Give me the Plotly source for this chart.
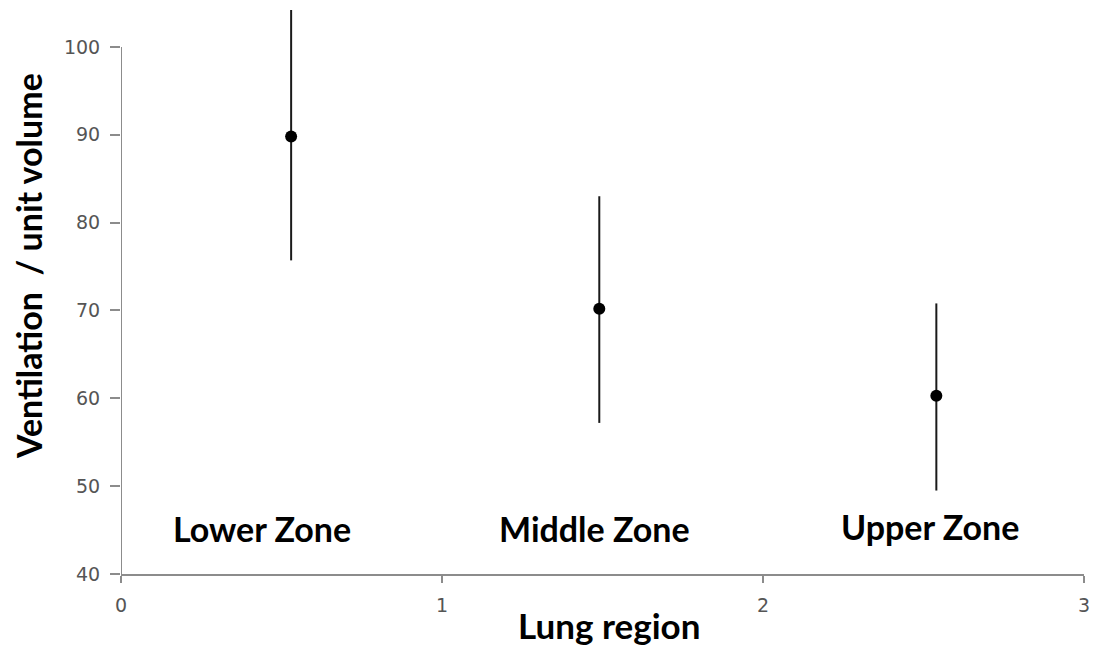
import plotly.graph_objects as go

# Mean ventilation per unit volume by lung region, with upper/lower spread
region_x = [0.53, 1.49, 2.54]
ventilation = [89.8, 70.2, 60.3]
err_upper = [14.4, 12.8, 10.5]
err_lower = [14.1, 13.0, 10.8]

zone_names = ["Lower Zone", "Middle Zone", "Upper Zone"]
zone_x = [0.44, 1.475, 2.52]
zone_y = [45.2, 45.2, 45.4]

x_ticks = [0, 1, 2, 3]
y_ticks = [40, 50, 60, 70, 80, 90, 100]
y_axis_span = [40, 100]

AXIS_GREY = "#8c8c8c"
TICK_FONT = dict(family="DejaVu Sans", size=19, color="#555555")
BOLD_FONT = "Lato"

fig = go.Figure()

fig.add_trace(go.Scatter(
    x=region_x,
    y=ventilation,
    mode="markers",
    marker=dict(color="black", size=12),
    error_y=dict(
        type="data",
        symmetric=False,
        array=err_upper,
        arrayminus=err_lower,
        color="#1a1a1a",
        thickness=2,
        width=0,
    ),
    cliponaxis=False,
    showlegend=False,
))

# Value axis line only runs over the labelled span; bars may rise above it
fig.add_shape(
    type="line", xref="x", yref="y",
    x0=0, x1=0, y0=y_axis_span[0], y1=y_axis_span[1],
    line=dict(color=AXIS_GREY, width=2),
    layer="above",
)

for name, zx, zy in zip(zone_names, zone_x, zone_y):
    fig.add_annotation(
        x=zx, y=zy, xref="x", yref="y",
        text=f"<b>{name}</b>",
        showarrow=False,
        font=dict(family=BOLD_FONT, size=34, color="black"),
    )

# Axis titles placed as annotations so they sit where the axis labels go
fig.add_annotation(
    x=0.5067, y=-0.0904, xref="paper", yref="paper",
    xanchor="center", yanchor="middle",
    text="<b>Lung region</b>",
    showarrow=False,
    font=dict(family=BOLD_FONT, size=35, color="black"),
)
fig.add_annotation(
    x=-0.0966, y=0.546, xref="paper", yref="paper",
    xanchor="center", yanchor="middle",
    text="<b>Ventilation  / unit volume</b>",
    textangle=-90,
    showarrow=False,
    font=dict(family=BOLD_FONT, size=34, color="black"),
)

fig.update_layout(
    width=1093,
    height=648,
    margin=dict(l=121, r=9, t=10, b=74, autoexpand=False),
    paper_bgcolor="white",
    plot_bgcolor="white",
    xaxis=dict(
        range=[0, 3],
        tickvals=x_ticks,
        ticktext=[str(v) for v in x_ticks],
        showgrid=False,
        zeroline=False,
        showline=True,
        linecolor=AXIS_GREY,
        linewidth=2,
        ticks="outside",
        ticklen=7,
        tickwidth=2,
        tickcolor=AXIS_GREY,
        tickfont=TICK_FONT,
        ticklabelstandoff=6,
        automargin=False,
    ),
    yaxis=dict(
        range=[40, 104.2],
        tickvals=y_ticks,
        ticktext=[str(v) for v in y_ticks],
        showgrid=False,
        zeroline=False,
        showline=False,
        ticks="outside",
        ticklen=10,
        tickwidth=2,
        tickcolor=AXIS_GREY,
        tickfont=TICK_FONT,
        ticklabelstandoff=6,
        automargin=False,
    ),
)

fig.write_html("out.html")
